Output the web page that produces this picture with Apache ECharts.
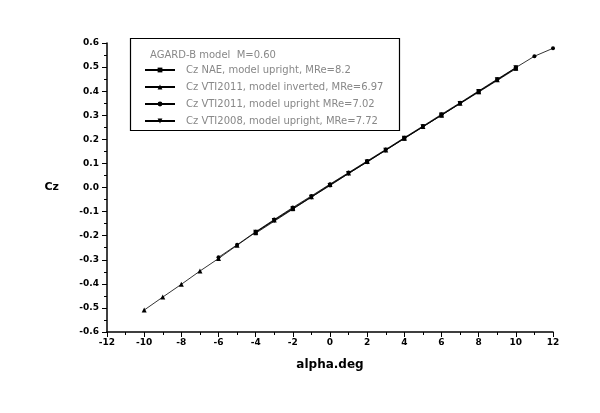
<!DOCTYPE html>
<html><head><meta charset="utf-8">
<script src="https://cdn.jsdelivr.net/npm/echarts@6/dist/echarts.min.js"></script>
<style>html,body{margin:0;padding:0;background:#fff}#c{width:600px;height:413px}</style>
</head><body><div id="c"></div>
<script>
const xTicks = [-12,-10,-8,-6,-4,-2,0,2,4,6,8,10,12];
const yTicks = [-0.6,-0.5,-0.4,-0.3,-0.2,-0.1,0.0,0.1,0.2,0.3,0.4,0.5,0.6];

const naeAlpha = [-4,-2,0,2,4,6,8,10];
const naeCz    = [-0.190,-0.090,0.010,0.106,0.203,0.300,0.396,0.493];

const invAlpha = [-10,-9,-8,-7,-6,-5,-4,-3,-2,-1,0,1,2,3,4,5,6,7,8,9,10];
const invCz    = [-0.509,-0.455,-0.402,-0.347,-0.295,-0.240,-0.186,-0.135,-0.086,-0.038,0.012,0.060,0.108,0.156,0.205,0.253,0.300,0.350,0.398,0.447,0.496];

const up11Alpha = [-6,-5,-4,-3,-2,-1,0,1,2,3,4,5,6,7,8,9,10,11,12];
const up11Cz    = [-0.290,-0.238,-0.184,-0.133,-0.083,-0.035,0.014,0.062,0.110,0.158,0.207,0.255,0.304,0.352,0.401,0.450,0.498,0.545,0.578];

const v08Alpha = [-4,-3,-2,-1,0,1,2,3,4,5,6,7,8,9,10];
const v08Cz    = [-0.186,-0.137,-0.088,-0.040,0.008,0.058,0.106,0.155,0.204,0.252,0.301,0.349,0.399,0.447,0.497];

const names = ['Cz NAE, model upright, MRe=8.2','Cz VTI2011, model inverted, MRe=6.97','Cz VTI2011, model upright MRe=7.02','Cz VTI2008, model upright, MRe=7.72'];
const zip = (a,b)=>a.map((v,i)=>[v,b[i]]);

const chart = echarts.init(document.getElementById('c'));
const lab = {color:'#000',fontSize:9,fontWeight:'bold',fontFamily:'DejaVu Sans'};
function ser(name,data,symbol,size,rot){
  return {name,type:'line',data,symbol,symbolSize:size,symbolRotate:rot||0,
    lineStyle:{color:'#000',width:0.8},itemStyle:{color:'#000'},animation:false};
}
chart.setOption({
  backgroundColor:'#fff',
  grid:{left:107,right:47,top:43,bottom:81},
  xAxis:{type:'value',min:-12,max:12,interval:2,
    name:'alpha.deg',nameLocation:'middle',nameGap:27,
    nameTextStyle:{color:'#000',fontSize:12,fontWeight:'bold',fontFamily:'DejaVu Sans'},
    axisLine:{onZero:false,lineStyle:{color:'#000',width:1.5}},
    axisTick:{inside:false,length:5,lineStyle:{color:'#000'}},
    minorTick:{show:true,splitNumber:2,length:3,lineStyle:{color:'#000'}},
    splitLine:{show:false},
    axisLabel:Object.assign({margin:6,formatter:v=>String(v)},lab)},
  yAxis:{type:'value',min:-0.6,max:0.6,interval:0.1,
    name:'Cz',nameLocation:'middle',nameGap:48,nameRotate:0,
    nameTextStyle:{color:'#000',fontSize:11,fontWeight:'bold',fontFamily:'DejaVu Sans'},
    axisLine:{onZero:false,lineStyle:{color:'#000',width:1.5}},
    axisTick:{inside:false,length:5,lineStyle:{color:'#000'}},
    minorTick:{show:true,splitNumber:2,length:3,lineStyle:{color:'#000'}},
    splitLine:{show:false},
    axisLabel:Object.assign({margin:8,formatter:v=>v.toFixed(1)},lab)},
  legend:{orient:'vertical',left:144,top:65,padding:0,itemWidth:30,itemHeight:6,itemGap:7,
    textStyle:{color:'#888',fontSize:10,fontFamily:'DejaVu Sans',padding:[0,0,0,6]},
    data:names},
  graphic:[
    {type:'rect',shape:{x:130.5,y:38.5,width:269,height:92},style:{fill:'#fff',stroke:'#000',lineWidth:1.2},z:-1},
    {type:'text',left:150,top:50,style:{text:'AGARD-B model  M=0.60',fill:'#888',fontSize:10,fontFamily:'DejaVu Sans'}}
  ],
  series:[
    ser(names[0],zip(naeAlpha,naeCz),'rect',4),
    ser(names[1],zip(invAlpha,invCz),'triangle',5),
    ser(names[2],zip(up11Alpha,up11Cz),'circle',4),
    ser(names[3],zip(v08Alpha,v08Cz),'triangle',5,180)
  ]
});
</script></body></html>
